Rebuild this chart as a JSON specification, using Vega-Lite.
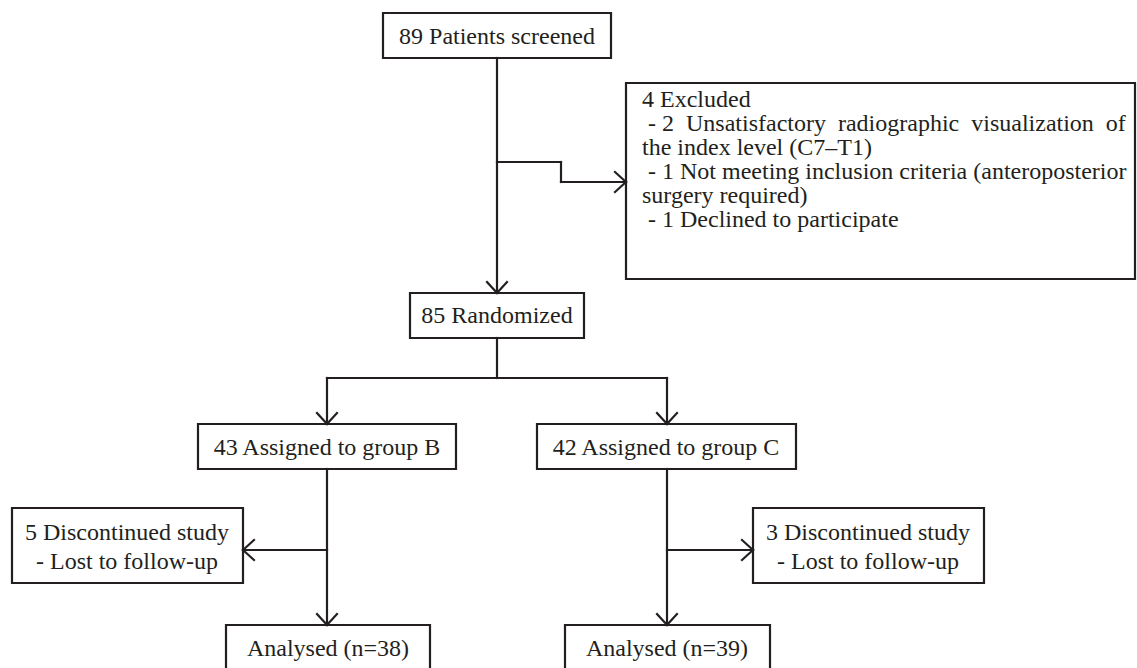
{
  "$schema": "https://vega.github.io/schema/vega-lite/v6.json",
  "width": 1137,
  "height": 668,
  "autosize": {"type": "fit", "contains": "padding"},
  "padding": 0,
  "background": "white",
  "config": {"view": {"stroke": null}},
  "datasets": {
    "boxes": [
      {"id": "screened", "x": 383, "y": 13, "x2": 611, "y2": 58},
      {"id": "excluded", "x": 626, "y": 83, "x2": 1135, "y2": 279},
      {"id": "randomized", "x": 410, "y": 293, "x2": 584, "y2": 338},
      {"id": "groupB", "x": 198, "y": 424, "x2": 456, "y2": 469},
      {"id": "groupC", "x": 537, "y": 424, "x2": 796, "y2": 469},
      {"id": "discB", "x": 12, "y": 508, "x2": 243, "y2": 583},
      {"id": "discC", "x": 753, "y": 508, "x2": 984, "y2": 583},
      {"id": "analysedB", "x": 226, "y": 625, "x2": 430, "y2": 690},
      {"id": "analysedC", "x": 565, "y": 625, "x2": 770, "y2": 690}
    ],
    "segs": [
      {"x": 497, "y": 58, "x2": 497, "y2": 293},
      {"x": 497, "y": 162, "x2": 561, "y2": 162},
      {"x": 561, "y": 162, "x2": 561, "y2": 182},
      {"x": 561, "y": 182, "x2": 626, "y2": 182},
      {"x": 615, "y": 172, "x2": 626, "y2": 182},
      {"x": 615, "y": 192, "x2": 626, "y2": 182},
      {"x": 487, "y": 282, "x2": 497, "y2": 293},
      {"x": 507, "y": 282, "x2": 497, "y2": 293},
      {"x": 497, "y": 338, "x2": 497, "y2": 378},
      {"x": 327, "y": 378, "x2": 667, "y2": 378},
      {"x": 327, "y": 378, "x2": 327, "y2": 424},
      {"x": 317, "y": 413, "x2": 327, "y2": 424},
      {"x": 337, "y": 413, "x2": 327, "y2": 424},
      {"x": 667, "y": 378, "x2": 667, "y2": 424},
      {"x": 657, "y": 413, "x2": 667, "y2": 424},
      {"x": 677, "y": 413, "x2": 667, "y2": 424},
      {"x": 327, "y": 469, "x2": 327, "y2": 625},
      {"x": 317, "y": 614, "x2": 327, "y2": 625},
      {"x": 337, "y": 614, "x2": 327, "y2": 625},
      {"x": 327, "y": 550, "x2": 243, "y2": 550},
      {"x": 254, "y": 540, "x2": 243, "y2": 550},
      {"x": 254, "y": 560, "x2": 243, "y2": 550},
      {"x": 667, "y": 469, "x2": 667, "y2": 625},
      {"x": 657, "y": 614, "x2": 667, "y2": 625},
      {"x": 677, "y": 614, "x2": 667, "y2": 625},
      {"x": 667, "y": 550, "x2": 753, "y2": 550},
      {"x": 742, "y": 540, "x2": 753, "y2": 550},
      {"x": 742, "y": 560, "x2": 753, "y2": 550}
    ],
    "texts": [
      {"a": "c", "x": 497, "y": 44, "t": "89 Patients screened"},
      {"a": "l", "x": 642, "y": 107, "t": "4 Excluded"},
      {"a": "l", "x": 648, "y": 131, "t": "- 2 \u00a0Unsatisfactory \u00a0radiographic \u00a0visualization \u00a0of"},
      {"a": "l", "x": 642, "y": 155, "t": "the index level (C7–T1)"},
      {"a": "l", "x": 648, "y": 179, "t": "- 1 Not meeting inclusion criteria (anteroposterior"},
      {"a": "l", "x": 642, "y": 203, "t": "surgery required)"},
      {"a": "l", "x": 648, "y": 227, "t": "- 1 Declined to participate"},
      {"a": "c", "x": 497, "y": 323, "t": "85 Randomized"},
      {"a": "c", "x": 327, "y": 455, "t": "43 Assigned to group B"},
      {"a": "c", "x": 666, "y": 455, "t": "42 Assigned to group C"},
      {"a": "c", "x": 127, "y": 540, "t": "5 Discontinued study"},
      {"a": "c", "x": 127, "y": 569, "t": "- Lost to follow-up"},
      {"a": "c", "x": 868, "y": 540, "t": "3 Discontinued study"},
      {"a": "c", "x": 868, "y": 569, "t": "- Lost to follow-up"},
      {"a": "c", "x": 328, "y": 656, "t": "Analysed (n=38)"},
      {"a": "c", "x": 667, "y": 656, "t": "Analysed (n=39)"}
    ]
  },
  "layer": [
    {
      "data": {"name": "boxes"},
      "mark": {"type": "rect", "fill": "white", "stroke": "#231f20", "strokeWidth": 2.2, "clip": true},
      "encoding": {
        "x": {"field": "x", "type": "quantitative", "scale": {"domain": [0, 1137], "nice": false, "zero": false}, "axis": null},
        "x2": {"field": "x2"},
        "y": {"field": "y", "type": "quantitative", "scale": {"domain": [0, 668], "nice": false, "zero": false, "reverse": true}, "axis": null},
        "y2": {"field": "y2"}
      }
    },
    {
      "data": {"name": "segs"},
      "mark": {"type": "rule", "stroke": "#231f20", "strokeWidth": 2.2, "strokeCap": "square"},
      "encoding": {
        "x": {"field": "x", "type": "quantitative", "scale": {"domain": [0, 1137], "nice": false, "zero": false}, "axis": null},
        "x2": {"field": "x2"},
        "y": {"field": "y", "type": "quantitative", "scale": {"domain": [0, 668], "nice": false, "zero": false, "reverse": true}, "axis": null},
        "y2": {"field": "y2"}
      }
    },
    {
      "data": {"name": "texts"},
      "transform": [{"filter": "datum.a === 'c'"}],
      "mark": {"type": "text", "align": "center", "baseline": "alphabetic", "font": "Liberation Serif", "fontSize": 24, "color": "#231f20"},
      "encoding": {
        "x": {"field": "x", "type": "quantitative", "scale": {"domain": [0, 1137], "nice": false, "zero": false}, "axis": null},
        "y": {"field": "y", "type": "quantitative", "scale": {"domain": [0, 668], "nice": false, "zero": false, "reverse": true}, "axis": null},
        "text": {"field": "t", "type": "nominal"}
      }
    },
    {
      "data": {"name": "texts"},
      "transform": [{"filter": "datum.a === 'l'"}],
      "mark": {"type": "text", "align": "left", "baseline": "alphabetic", "font": "Liberation Serif", "fontSize": 24, "color": "#231f20"},
      "encoding": {
        "x": {"field": "x", "type": "quantitative", "scale": {"domain": [0, 1137], "nice": false, "zero": false}, "axis": null},
        "y": {"field": "y", "type": "quantitative", "scale": {"domain": [0, 668], "nice": false, "zero": false, "reverse": true}, "axis": null},
        "text": {"field": "t", "type": "nominal"}
      }
    }
  ]
}
